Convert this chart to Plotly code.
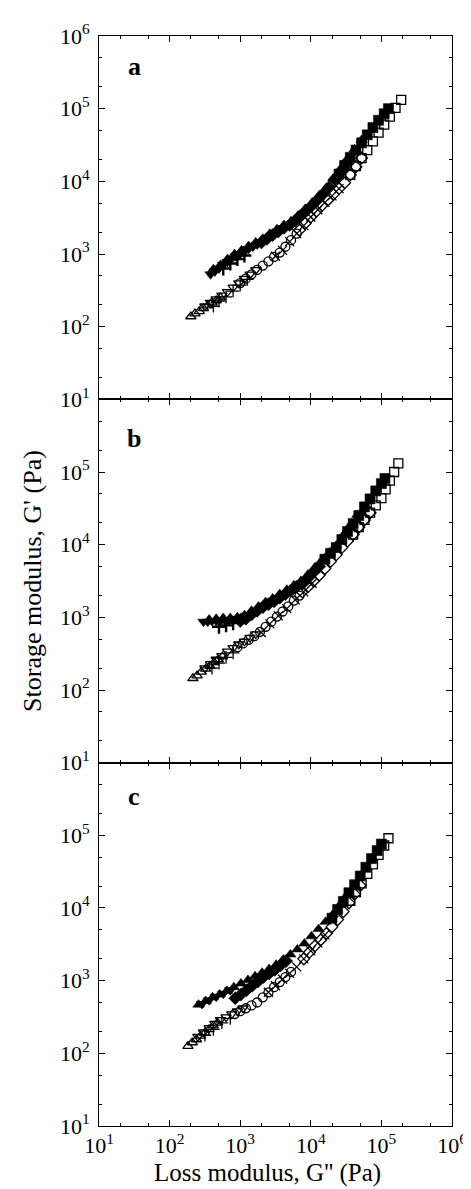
import plotly.graph_objects as go

# ---------------- tick labels / texts ----------------
TICK_VALS = [10, 100, 1000, 10000, 100000, 1000000]
TICK_TEXT = ["10<sup>1</sup>", "10<sup>2</sup>", "10<sup>3</sup>",
             "10<sup>4</sup>", "10<sup>5</sup>", "10<sup>6</sup>"]
PANEL_LABELS = ["a", "b", "c"]
X_TITLE = "Loss modulus, G'' (Pa)"
Y_TITLE = "Storage modulus, G' (Pa)"

# ---------------- panel a : filled symbols ----------------
A_F_TDN_X = [380, 437, 501, 575, 661, 759, 871, 1000, 1148, 1318, 1514, 1738, 1995]
A_F_TDN_Y = [525, 575, 631, 708, 776, 851, 933, 1000, 1072, 1175, 1259, 1349, 1445]
A_F_TUP_X = [417, 525, 661, 832, 1047, 1318, 1660, 2089, 2630, 3311, 4169, 5248, 6607, 8318,
             10470, 13180, 16600, 20890, 26300, 33110, 41690, 52480]
A_F_TUP_Y = [617, 708, 851, 1000, 1122, 1288, 1445, 1622, 1905, 2188, 2512, 2818, 3388, 4169,
             5129, 6457, 8128, 10960, 14790, 20420, 27540, 37150]
A_F_PLUS_X = [575, 724, 912, 1148]
A_F_PLUS_Y = [631, 741, 851, 955]
A_F_DIA_X = [1995, 2399, 2884, 3467, 4169, 5012, 6026, 7244, 8710, 10470, 12590, 15140, 18200,
             21880, 26300, 31620]
A_F_DIA_Y = [1445, 1622, 1820, 2042, 2291, 2512, 2884, 3388, 3981, 4677, 5623, 6761, 8318,
             10720, 13490, 17780]
A_F_SQ_X = [25120, 30200, 36310, 43650, 52480, 63100, 75860, 91200, 109600, 125900]
A_F_SQ_Y = [12590, 16600, 21380, 26920, 33880, 43650, 54950, 69180, 85110, 100000]

# ---------------- panel a : open symbols ----------------
A_O_TUP_X = [200, 229, 263, 302, 347, 398, 457, 525]
A_O_TUP_Y = [138, 151, 162, 178, 195, 214, 229, 251]
A_O_TDN_X = [316, 380, 457, 550, 661, 794, 955, 1148, 1380, 1660]
A_O_TDN_Y = [191, 214, 240, 269, 302, 347, 398, 457, 525, 603]
A_O_PLUS_X = [417, 501, 631, 794, 1000, 1259]
A_O_PLUS_Y = [191, 224, 257, 309, 372, 447]
A_O_CIR_X = [1000, 1202, 1445, 1738, 2089, 2512, 3020, 3631, 4365, 5248, 6310]
A_O_CIR_Y = [398, 457, 525, 603, 692, 794, 912, 1047, 1259, 1549, 1905]
A_O_X_X = [3162, 3981, 5012, 6310, 7943, 10000, 12590, 15850, 19950, 25120]
A_O_X_Y = [933, 1122, 1479, 1905, 2455, 3236, 4074, 5129, 6310, 7943]
A_O_DIA_X = [6918, 8318, 10000, 12020, 14450, 17380, 20890, 25120, 30200, 36310, 43650, 52480]
A_O_DIA_Y = [2138, 2630, 3236, 3890, 4677, 5495, 6607, 7943, 9550, 12300, 15850, 20890]
A_O_SQ_X = [36310, 43650, 52480, 63100, 75860, 91200, 109600, 131800, 158500, 190500]
A_O_SQ_Y = [12300, 16220, 20890, 26920, 35480, 46770, 60260, 77620, 102300, 131800]

# ---------------- panel b : filled symbols ----------------
B_F_TDN_X = [302, 347, 398, 457, 525, 603, 692, 794, 912, 1047, 1202]
B_F_TDN_Y = [871, 871, 891, 891, 891, 912, 912, 933, 955, 1000, 1047]
B_F_PLUS_X = [501, 631, 794]
B_F_PLUS_Y = [741, 776, 832]
B_F_TUP_X = [363, 457, 575, 724, 912, 1148, 1445, 1820, 2291, 2884, 3631, 4571, 5754, 7244,
             9120, 11480, 14450, 18200, 22910, 28840, 36310, 45710]
B_F_TUP_Y = [933, 955, 977, 977, 1000, 1072, 1230, 1413, 1622, 1820, 2089, 2399, 2754, 3162,
             3890, 4898, 6166, 7762, 9772, 13490, 18620, 25700]
B_F_DIA_X = [1000, 1202, 1445, 1738, 2089, 2512, 3020, 3631, 4365, 5248, 6310, 7586, 9120,
             10960, 13180]
B_F_DIA_Y = [891, 955, 1096, 1230, 1380, 1514, 1660, 1862, 2089, 2344, 2630, 2884, 3467,
             4169, 5012]
B_F_SQ_X = [15850, 19050, 22910, 27540, 33110, 39810, 47860, 57540, 69180, 83180, 100000, 112200]
B_F_SQ_Y = [6310, 7586, 9120, 11750, 15140, 19500, 25120, 33110, 42660, 54950, 69180, 81280]

# ---------------- panel b : open symbols ----------------
B_O_TUP_X = [214, 245, 282, 324, 372, 427, 490, 562]
B_O_TUP_Y = [145, 158, 178, 195, 214, 240, 263, 288]
B_O_TDN_X = [316, 380, 457, 550, 661, 794, 955, 1148, 1380, 1660]
B_O_TDN_Y = [200, 229, 263, 295, 339, 380, 427, 468, 525, 589]
B_O_PLUS_X = [398, 501, 631, 794]
B_O_PLUS_Y = [200, 234, 282, 324]
B_O_CIR_X = [912, 1096, 1318, 1585, 1905, 2291, 2754, 3311, 3981, 4786, 5754, 6918]
B_O_CIR_Y = [389, 437, 490, 550, 631, 741, 871, 1023, 1202, 1413, 1698, 1995]
B_O_X_X = [1995, 2630, 3467, 4571, 6026, 7943, 10470]
B_O_X_Y = [617, 813, 1047, 1318, 1738, 2239, 2951]
B_O_DIA_X = [7586, 9120, 10960, 13180, 15850, 19050, 22910, 27540, 33110, 39810, 47860, 57540, 69180]
B_O_DIA_Y = [2239, 2630, 3162, 3802, 4677, 5888, 7244, 9120, 11220, 13800, 17380, 21880, 27540]
B_O_SQ_X = [39810, 47860, 57540, 69180, 83180, 100000, 114800, 131800, 151400, 173800]
B_O_SQ_Y = [13800, 17380, 21880, 27540, 34670, 43650, 57540, 75860, 100000, 131800]

# ---------------- panel c : filled symbols ----------------
C_F_TUP_X = [257, 324, 407, 513, 646, 813, 1023, 1288, 1622, 2042, 2570, 3236, 4074, 5129,
             6457, 8128, 10230, 12880, 16220, 20420, 25700, 32360]
C_F_TUP_Y = [468, 525, 589, 646, 724, 813, 912, 1023, 1148, 1288, 1445, 1660, 1950, 2291,
             2692, 3236, 4074, 5129, 6457, 8128, 10960, 15140]
C_F_TDN_X = [288, 363, 457, 575, 724]
C_F_TDN_Y = [479, 537, 603, 661, 741]
C_F_DIA_X = [851, 1023, 1230, 1479, 1778, 2138, 2570, 3090, 3715, 4467]
C_F_DIA_Y = [575, 646, 741, 851, 977, 1122, 1259, 1413, 1622, 1862]
C_F_SQ_X = [19950, 23990, 28840, 34670, 41690, 50120, 60260, 72440, 87100, 100000]
C_F_SQ_Y = [7244, 9550, 12300, 16220, 20890, 27540, 36310, 47860, 61660, 75860]

# ---------------- panel c : open symbols ----------------
C_O_TUP_X = [182, 209, 240, 275, 316, 363, 417, 479]
C_O_TUP_Y = [126, 141, 155, 174, 191, 214, 240, 263]
C_O_TDN_X = [251, 302, 363, 437, 525, 631, 759, 912, 1096]
C_O_TDN_Y = [170, 195, 224, 257, 288, 316, 347, 380, 417]
C_O_PLUS_X = [316, 417, 550, 724]
C_O_PLUS_Y = [178, 214, 263, 302]
C_O_CIR_X = [832, 1000, 1202, 1445, 1738, 2089, 2512, 3020, 3631, 4365, 5248]
C_O_CIR_Y = [347, 380, 417, 457, 501, 589, 692, 813, 955, 1122, 1318]
C_O_X_X = [2512, 3162, 3981, 5012, 6310, 7943, 10000, 12590, 15850]
C_O_X_Y = [692, 851, 1047, 1259, 1549, 1995, 2570, 3311, 4266]
C_O_DIA_X = [7943, 9550, 11480, 13800, 16600, 19950, 23990, 28840, 34670, 41690, 50120]
C_O_DIA_Y = [1995, 2455, 3020, 3631, 4467, 5495, 6918, 8913, 11750, 15490, 20420]
C_O_SQ_X = [36310, 43650, 52480, 63100, 75860, 91200, 109600, 125900]
C_O_SQ_Y = [12590, 16600, 21880, 29510, 39810, 53700, 72440, 91200]

FONT = "Liberation Serif, Times New Roman, serif"

fig = go.Figure()

FILLED = {"tdn": "triangle-down", "tup": "triangle-up", "dia": "diamond",
          "sq": "square", "plus": "cross-thin-open"}
OPEN = {"tdn": "triangle-down-open", "tup": "triangle-up-open", "dia": "diamond-open",
        "sq": "square-open", "plus": "cross-thin-open", "cir": "circle-open", "x": "x-thin-open"}

panels = [
    ("x", "y", [
        ("tdn", A_F_TDN_X, A_F_TDN_Y, True), ("tup", A_F_TUP_X, A_F_TUP_Y, True),
        ("plus", A_F_PLUS_X, A_F_PLUS_Y, True), ("dia", A_F_DIA_X, A_F_DIA_Y, True),
        ("sq", A_F_SQ_X, A_F_SQ_Y, True),
        ("tup", A_O_TUP_X, A_O_TUP_Y, False), ("tdn", A_O_TDN_X, A_O_TDN_Y, False),
        ("plus", A_O_PLUS_X, A_O_PLUS_Y, False), ("cir", A_O_CIR_X, A_O_CIR_Y, False),
        ("x", A_O_X_X, A_O_X_Y, False), ("dia", A_O_DIA_X, A_O_DIA_Y, False),
        ("sq", A_O_SQ_X, A_O_SQ_Y, False)]),
    ("x2", "y2", [
        ("tdn", B_F_TDN_X, B_F_TDN_Y, True), ("plus", B_F_PLUS_X, B_F_PLUS_Y, True),
        ("tup", B_F_TUP_X, B_F_TUP_Y, True), ("dia", B_F_DIA_X, B_F_DIA_Y, True),
        ("sq", B_F_SQ_X, B_F_SQ_Y, True),
        ("tup", B_O_TUP_X, B_O_TUP_Y, False), ("tdn", B_O_TDN_X, B_O_TDN_Y, False),
        ("plus", B_O_PLUS_X, B_O_PLUS_Y, False), ("cir", B_O_CIR_X, B_O_CIR_Y, False),
        ("x", B_O_X_X, B_O_X_Y, False), ("dia", B_O_DIA_X, B_O_DIA_Y, False),
        ("sq", B_O_SQ_X, B_O_SQ_Y, False)]),
    ("x3", "y3", [
        ("tup", C_F_TUP_X, C_F_TUP_Y, True), ("tdn", C_F_TDN_X, C_F_TDN_Y, True),
        ("dia", C_F_DIA_X, C_F_DIA_Y, True), ("sq", C_F_SQ_X, C_F_SQ_Y, True),
        ("tup", C_O_TUP_X, C_O_TUP_Y, False), ("tdn", C_O_TDN_X, C_O_TDN_Y, False),
        ("plus", C_O_PLUS_X, C_O_PLUS_Y, False), ("cir", C_O_CIR_X, C_O_CIR_Y, False),
        ("x", C_O_X_X, C_O_X_Y, False), ("dia", C_O_DIA_X, C_O_DIA_Y, False),
        ("sq", C_O_SQ_X, C_O_SQ_Y, False)]),
]

for xa, ya, series in panels:
    for key, xs, ys, filled in series:
        sym = FILLED[key] if filled else OPEN[key]
        if filled:
            lw = 2.4 if key == "plus" else 0.6
            marker = dict(symbol=sym, size=10, color="black",
                          line=dict(color="black", width=lw))
        else:
            marker = dict(symbol=sym, size=9, color="black",
                          line=dict(color="black", width=1.3))
        fig.add_trace(go.Scatter(x=xs, y=ys, mode="markers", marker=marker,
                                 xaxis=xa, yaxis=ya, showlegend=False,
                                 cliponaxis=False))

axis_common = dict(type="log", range=[1, 6], showline=True, linecolor="black",
                   linewidth=1, mirror="ticks", ticks="inside", ticklen=6,
                   tickcolor="black", showgrid=False, zeroline=False,
                   minor=dict(ticks="inside", ticklen=3, tickcolor="black", showgrid=False),
                   tickfont=dict(family=FONT, size=22, color="black"))

domains = [[2 / 3, 1], [1 / 3, 2 / 3], [0, 1 / 3]]
names = ["", "2", "3"]
for i, n in enumerate(names):
    xd = dict(axis_common, domain=[0, 1], anchor="y" + n,
              tickvals=TICK_VALS, ticktext=TICK_TEXT,
              showticklabels=(i == 2))
    if i != 0:
        xd["matches"] = "x"
    yvals = TICK_VALS if i == 0 else TICK_VALS[:5]
    ytext = TICK_TEXT if i == 0 else TICK_TEXT[:5]
    yd = dict(axis_common, domain=domains[i], anchor="x" + n,
              tickvals=yvals, ticktext=ytext, ticklabelstandoff=4)
    fig.update_layout({"xaxis" + n: xd, "yaxis" + n: yd})

annotations = []
label_y = [0.915, 0.893, 0.907]
for i, (lab, n) in enumerate(zip(PANEL_LABELS, names)):
    annotations.append(dict(text="<b>" + lab + "</b>", xref="x" + n + " domain",
                            yref="y" + n + " domain", x=0.10, y=label_y[i],
                            showarrow=False,
                            font=dict(family=FONT, size=26, color="black"),
                            xanchor="center", yanchor="middle"))
annotations.append(dict(text=Y_TITLE, xref="paper", yref="paper", x=-0.19, y=0.5,
                        textangle=-90, showarrow=False,
                        font=dict(family=FONT, size=26, color="black"),
                        xanchor="center", yanchor="middle"))
annotations.append(dict(text=X_TITLE, xref="paper", yref="paper", x=0.476, y=-0.043,
                        showarrow=False,
                        font=dict(family=FONT, size=25, color="black"),
                        xanchor="center", yanchor="middle"))

fig.update_layout(width=471, height=1189,
                  margin=dict(l=91, r=19, t=24, b=71),
                  paper_bgcolor="white", plot_bgcolor="white",
                  annotations=annotations, showlegend=False)

fig.write_html("out.html")
